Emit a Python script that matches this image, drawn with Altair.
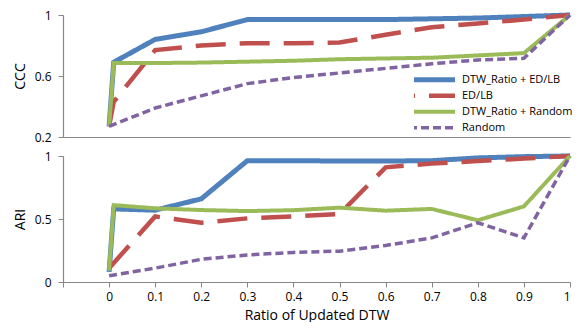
import altair as alt
import pandas as pd

series = ["DTW_Ratio + ED/LB", "ED/LB", "DTW_Ratio + Random", "Random"]
colors = ["#4F81BD", "#C0504D", "#9BBB59", "#8064A2"]

x_fine = [0, 0.01, 0.1, 0.2, 0.3, 0.4, 0.5, 0.6, 0.7, 0.8, 0.9, 1.0]
x_plain = [0, 0.1, 0.2, 0.3, 0.4, 0.5, 0.6, 0.7, 0.8, 0.9, 1.0]

# CCC panel
ccc_blue = [0.27, 0.69, 0.84, 0.89, 0.97, 0.97, 0.97, 0.97, 0.975, 0.98, 0.99, 1.0]
ccc_red = [0.27, 0.43, 0.77, 0.80, 0.815, 0.815, 0.82, 0.87, 0.92, 0.945, 0.97, 1.0]
ccc_green = [0.27, 0.685, 0.685, 0.688, 0.694, 0.70, 0.71, 0.715, 0.72, 0.735, 0.75, 1.0]
ccc_purple = [0.27, 0.39, 0.47, 0.55, 0.59, 0.62, 0.65, 0.68, 0.705, 0.716, 1.0]

# ARI panel
ari_blue = [0.08, 0.58, 0.57, 0.66, 0.963, 0.963, 0.96, 0.96, 0.963, 0.985, 0.995, 1.0]
ari_red = [0.11, 0.52, 0.47, 0.505, 0.52, 0.54, 0.91, 0.94, 0.96, 0.98, 1.0]
ari_green = [0.09, 0.61, 0.585, 0.571, 0.563, 0.57, 0.59, 0.566, 0.58, 0.49, 0.60, 1.0]
ari_purple = [0.05, 0.11, 0.18, 0.215, 0.235, 0.245, 0.29, 0.35, 0.47, 0.35, 1.0]

x_ticks = [-0.1, 0, 0.1, 0.2, 0.3, 0.4, 0.5, 0.6, 0.7, 0.8, 0.9, 1.0]


def build(panel_values):
    rows = []
    for name, xs, ys in panel_values:
        for i, (xv, yv) in enumerate(zip(xs, ys)):
            rows.append({"series": name, "x": xv, "y": yv, "i": i})
    return pd.DataFrame(rows)


ccc_df = build([
    (series[0], x_fine, ccc_blue),
    (series[1], x_fine, ccc_red),
    (series[2], x_fine, ccc_green),
    (series[3], x_plain, ccc_purple),
])
ari_df = build([
    (series[0], x_fine, ari_blue),
    (series[1], x_plain, ari_red),
    (series[2], x_fine, ari_green),
    (series[3], x_plain, ari_purple),
])

FONT = "Open Sans"
xscale = alt.Scale(domain=[-0.1, 1.0], nice=False, zero=False)


def encs(show_legend):
    if show_legend:
        leg = alt.Legend(
            title=None, orient="none", legendX=351, legendY=57,
            symbolType="M-10,0H10", symbolSize=49, labelFont=FONT,
            labelFontSize=11, labelColor="#000", labelOffset=36,
            rowPadding=0, clipHeight=15.3, padding=0,
        )
    else:
        leg = None
    return dict(
        color=alt.Color("series:N", scale=alt.Scale(domain=series, range=colors), legend=leg),
        strokeDash=alt.StrokeDash("series:N", scale=alt.Scale(domain=series, range=[[1, 0], [30, 14], [1, 0], [8, 4]]), legend=leg),
        strokeWidth=alt.StrokeWidth("series:O", scale=alt.Scale(domain=series, range=[5, 3.5, 4, 3]), legend=leg),
        order=alt.Order("i:Q"),
    )


top = alt.Chart(ccc_df).mark_line(clip=False).encode(
    x=alt.X("x:Q", scale=xscale, axis=alt.Axis(title=None, labels=False, ticks=False, grid=False)),
    y=alt.Y("y:Q", scale=alt.Scale(domain=[0.2, 1.0], nice=False, zero=False),
            axis=alt.Axis(title="CCC", values=[0.2, 0.6, 1.0], grid=False, labelExpr="format(datum.value, '.1~f')")),
    **encs(True),
).properties(width=507, height=122)

bottom = alt.Chart(ari_df).mark_line(clip=False).encode(
    x=alt.X("x:Q", scale=xscale, axis=alt.Axis(title="Ratio of Updated DTW", values=x_ticks, grid=False,
                                              labelPadding=4, titlePadding=6,
                                              labelExpr="datum.value < -0.05 ? '' : format(datum.value, '.1~f')")),
    y=alt.Y("y:Q", scale=alt.Scale(domain=[0.0, 1.0], nice=False),
            axis=alt.Axis(title="ARI", values=[0, 0.5, 1.0], grid=False, labelExpr="format(datum.value, '.1~f')")),
    **encs(False),
).properties(width=507, height=126)

chart = alt.vconcat(top, bottom, spacing=19, bounds="flush").resolve_scale(
    color="independent", strokeDash="independent", strokeWidth="independent"
).properties(
    padding={"left": 5, "top": -3, "right": 0, "bottom": 0}
).configure_view(stroke=None).configure_axis(
    domainColor="#868686", tickColor="#868686", tickSize=5, domainWidth=1.2,
    labelFont=FONT, labelFontSize=12, labelColor="#000",
    titleFont=FONT, titleFontSize=14, titleFontWeight="normal", titleColor="#000",
).configure_axisY(labelPadding=7, titlePadding=7)

chart.save("out.html", embed_options={"renderer": "svg", "actions": False})
